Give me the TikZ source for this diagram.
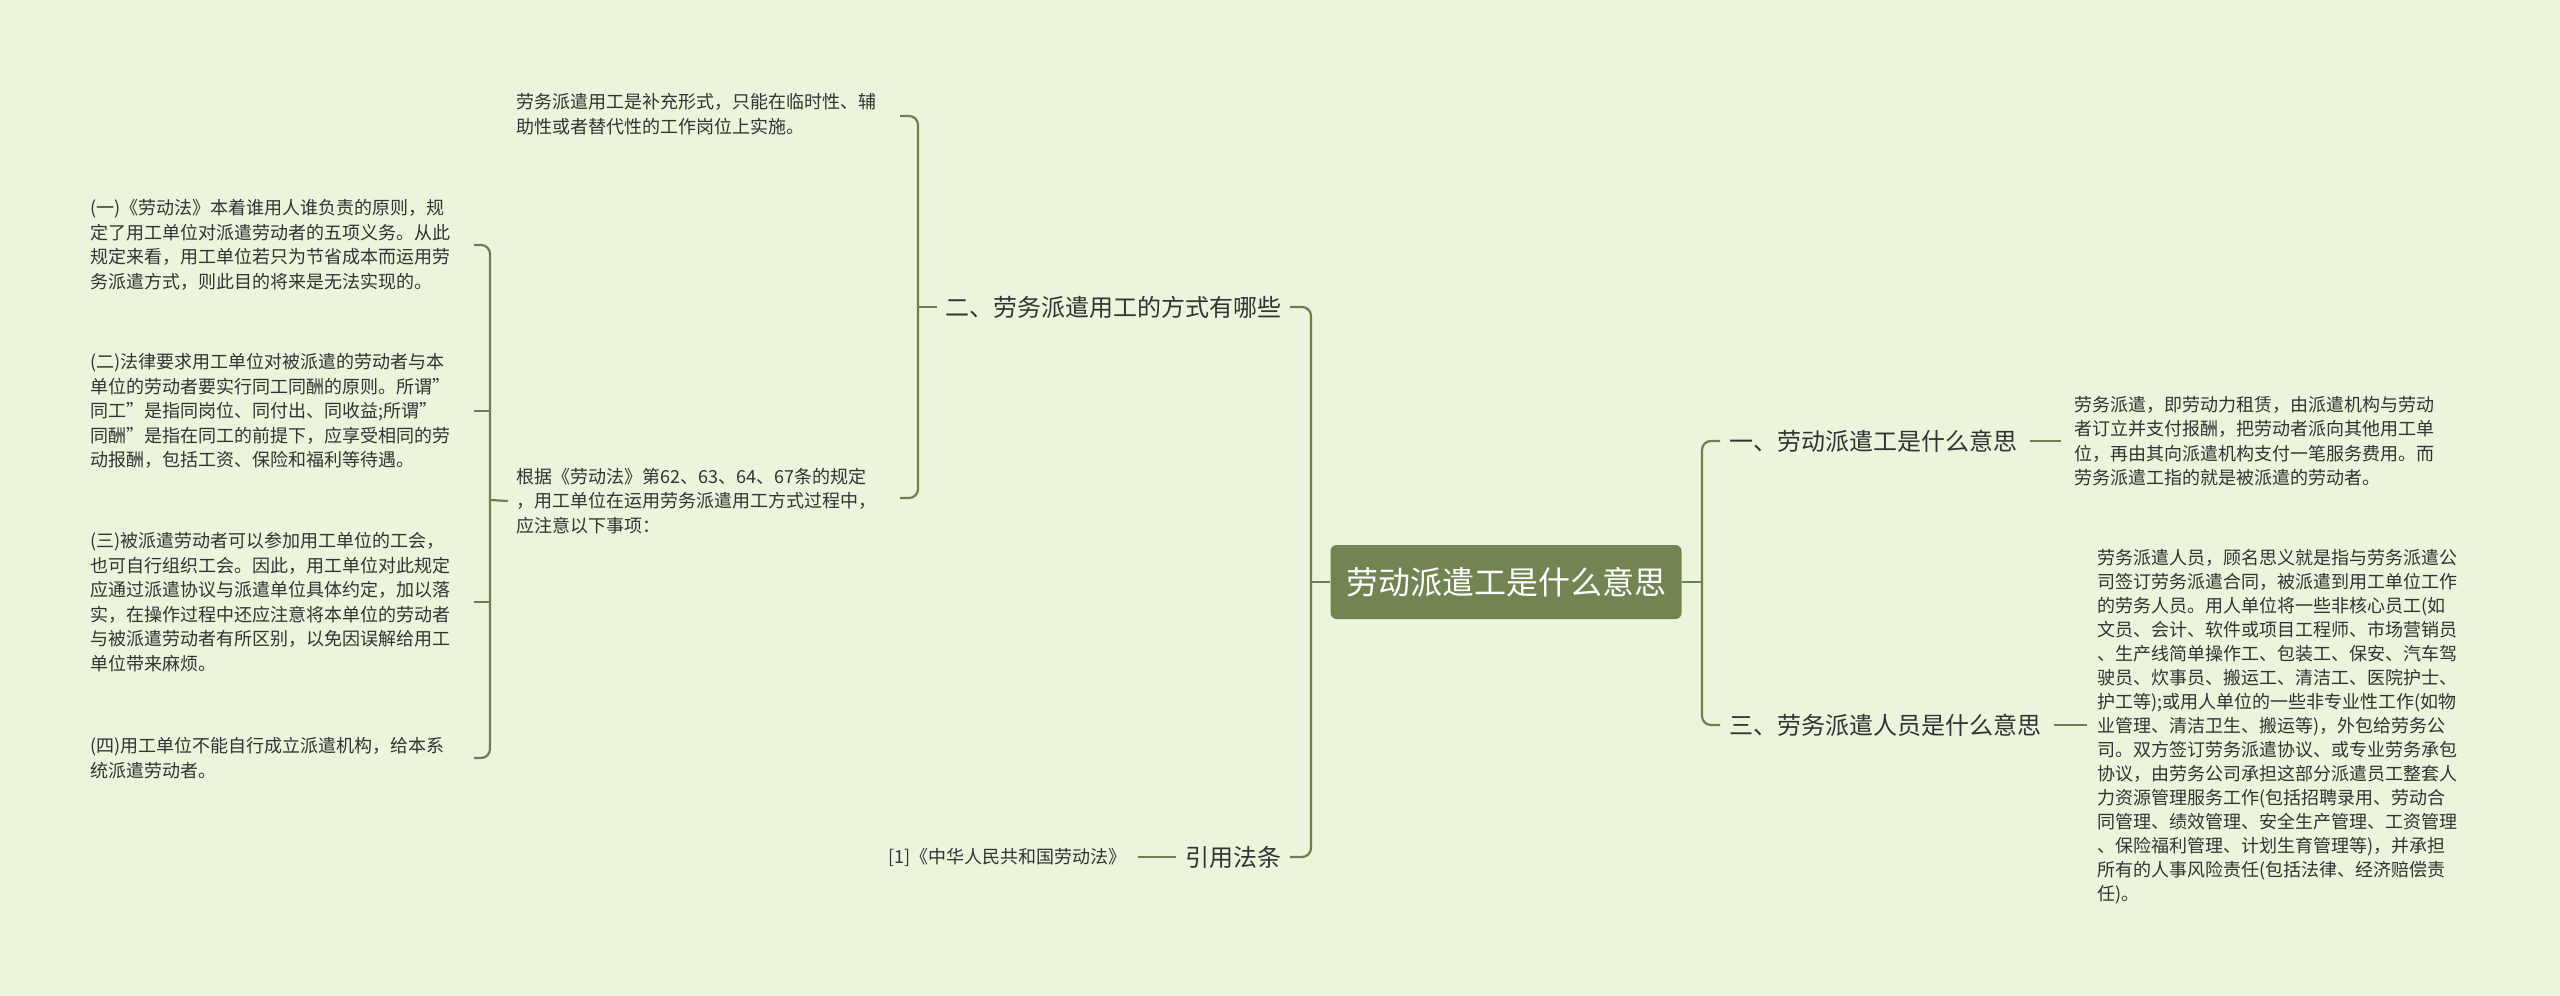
\documentclass[tikz,border=0pt]{standalone}
\usepackage{fontspec}
\setmainfont{Noto Sans CJK SC}
\definecolor{bg}{HTML}{EAF5DC}
\definecolor{ln}{HTML}{6E7E4E}
\definecolor{rootc}{HTML}{738453}
\definecolor{tx}{HTML}{333333}
\begin{document}
\begin{tikzpicture}[x=1pt,y=-1pt,
  conn/.style={draw=ln,line width=2.2pt,rounded corners=9pt},
  para/.style={inner sep=0pt,align=left,text=tx,font=\fontsize{18}{24.5}\selectfont},
  branch/.style={inner sep=0pt,text=tx,font=\fontsize{24}{28}\selectfont}]
\fill[bg] (0,0) rectangle (2560,996);
\useasboundingbox (0,0) rectangle (2560,996);
% root
\node[fill=rootc,rounded corners=6pt,minimum width=351pt,minimum height=74pt,text=white,font=\fontsize{32}{36}\selectfont] (root) at (1506,582) {劳动派遣工是什么意思};
% branches
\node[branch,anchor=east] (b2) at (1282,307) {二、劳务派遣用工的方式有哪些};
\node[branch,anchor=east] (b4) at (1282,857) {引用法条};
\node[branch,anchor=west] (b1) at (1729,441) {一、劳动派遣工是什么意思};
\node[branch,anchor=west] (b3) at (1729,725) {三、劳务派遣人员是什么意思};
% left spine
\coordinate (s2) at (1311,307); \coordinate (s4) at (1311,857);
\draw[conn] ([xshift=8pt]b2.east) -- (s2) -- (s4) -- ([xshift=8pt]b4.east);
\draw[conn] (root.west) -- (1311,582);
% right spine
\draw[conn] ([xshift=-9pt]b1.west) -- (1702,441) -- (1702,725) -- ([xshift=-9pt]b3.west);
\draw[conn] (root.east) -- (1702,582);
% paragraphs right
\node[para,anchor=west] (p1) at (2074,441) {劳务派遣，即劳动力租赁，由派遣机构与劳动\\者订立并支付报酬，把劳动者派向其他用工单\\位，再由其向派遣机构支付一笔服务费用。而\\劳务派遣工指的就是被派遣的劳动者。};
\draw[conn] ([xshift=13pt]b1.east) -- ([xshift=-13pt]p1.west);
\node[para,anchor=west,font=\fontsize{18}{24}\selectfont] (p3) at (2097,727) {劳务派遣人员，顾名思义就是指与劳务派遣公\\司签订劳务派遣合同，被派遣到用工单位工作\\的劳务人员。用人单位将一些非核心员工(如\\文员、会计、软件或项目工程师、市场营销员\\、生产线简单操作工、包装工、保安、汽车驾\\驶员、炊事员、搬运工、清洁工、医院护士、\\护工等);或用人单位的一些非专业性工作(如物\\业管理、清洁卫生、搬运等)，外包给劳务公\\司。双方签订劳务派遣协议、或专业劳务承包\\协议，由劳务公司承担这部分派遣员工整套人\\力资源管理服务工作(包括招聘录用、劳动合\\同管理、绩效管理、安全生产管理、工资管理\\、保险福利管理、计划生育管理等)，并承担\\所有的人事风险责任(包括法律、经济赔偿责\\任)。};
\draw[conn] ([xshift=13pt]b3.east) -- (2087,725);
% reference
\node[para,anchor=east] (r1) at (1127,857) {[1]《中华人民共和国劳动法》};
\draw[conn] ([xshift=-10pt]b4.west) -- ([xshift=11pt]r1.east);
% branch 2 children
\node[para,anchor=west] (t1) at (516,114) {劳务派遣用工是补充形式，只能在临时性、辅\\助性或者替代性的工作岗位上实施。};
\node[para,anchor=west] (t2) at (516,501) {根据《劳动法》第62、63、64、67条的规定\\，用工单位在运用劳务派遣用工方式过程中，\\应注意以下事项：};
\draw[conn] (900,116) -- (918,116) -- (918,498) -- (900,498);
\draw[conn] ([xshift=-9pt]b2.west) -- (918,307);
% left children
\node[para,anchor=west] (l1) at (90,245) {(一)《劳动法》本着谁用人谁负责的原则，规\\定了用工单位对派遣劳动者的五项义务。从此\\规定来看，用工单位若只为节省成本而运用劳\\务派遣方式，则此目的将来是无法实现的。};
\node[para,anchor=west] (l2) at (90,411) {(二)法律要求用工单位对被派遣的劳动者与本\\单位的劳动者要实行同工同酬的原则。所谓”\\同工”是指同岗位、同付出、同收益;所谓”\\同酬”是指在同工的前提下，应享受相同的劳\\动报酬，包括工资、保险和福利等待遇。};
\node[para,anchor=west] (l3) at (90,602) {(三)被派遣劳动者可以参加用工单位的工会，\\也可自行组织工会。因此，用工单位对此规定\\应通过派遣协议与派遣单位具体约定，加以落\\实，在操作过程中还应注意将本单位的劳动者\\与被派遣劳动者有所区别，以免因误解给用工\\单位带来麻烦。};
\node[para,anchor=west] (l4) at (90,758) {(四)用工单位不能自行成立派遣机构，给本系\\统派遣劳动者。};
\draw[conn] (474,245) -- (490,245) -- (490,758) -- (474,758);
\draw[conn] (474,411) -- (490,411) (474,602) -- (490,602);
\draw[conn] (490,500) -- ([xshift=-8pt]t2.west);
\end{tikzpicture}
\end{document}
